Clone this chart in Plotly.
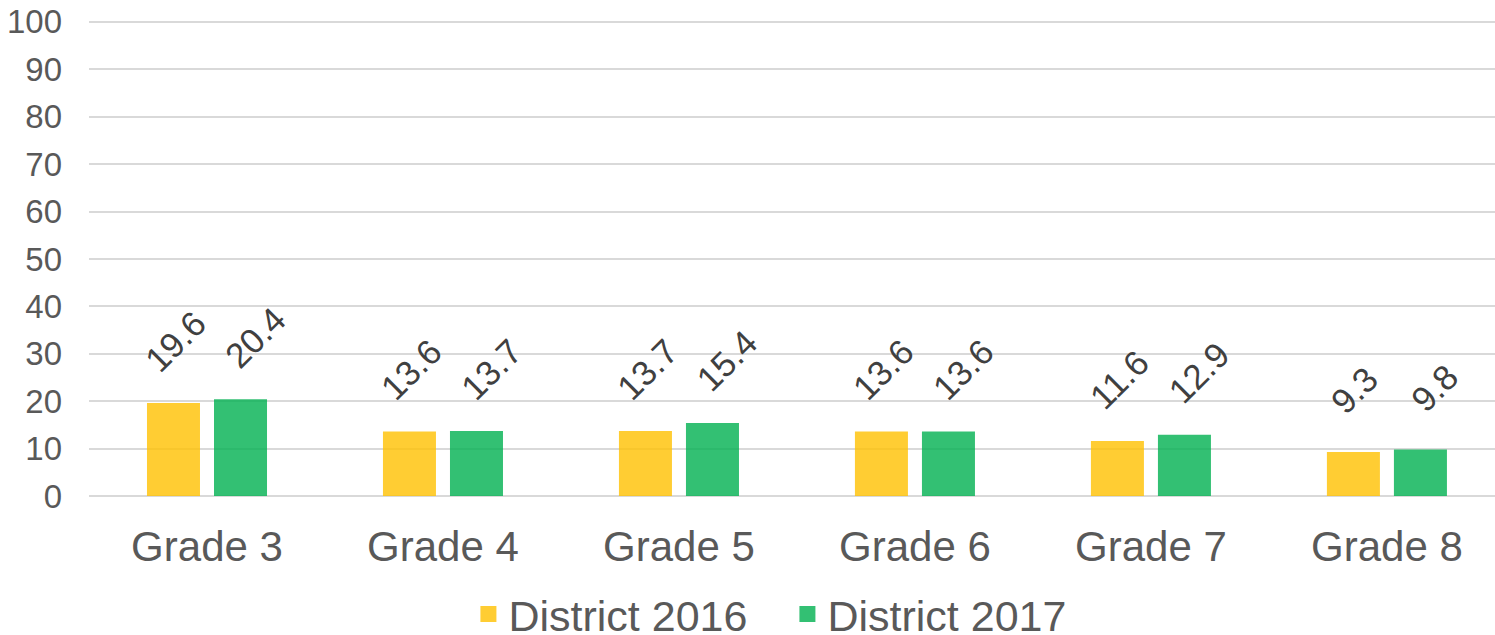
import plotly.graph_objects as go

grades = ["Grade 3", "Grade 4", "Grade 5", "Grade 6", "Grade 7", "Grade 8"]
district_2016 = [19.6, 13.6, 13.7, 13.6, 11.6, 9.3]
district_2017 = [20.4, 13.7, 15.4, 13.6, 12.9, 9.8]
y_ticks = [0, 10, 20, 30, 40, 50, 60, 70, 80, 90, 100]

FONT = "Liberation Sans, Arial, sans-serif"
C16 = "rgba(255,192,0,0.8)"
C17 = "rgba(0,176,80,0.8)"

fig = go.Figure()
fig.add_trace(go.Bar(x=grades, y=district_2016, name="District 2016",
                     marker=dict(color=C16, line=dict(width=0)), showlegend=False))
fig.add_trace(go.Bar(x=grades, y=district_2017, name="District 2017",
                     marker=dict(color=C17, line=dict(width=0)), showlegend=False))
# legend entries with larger squares
fig.add_trace(go.Scatter(x=[None], y=[None], mode="markers", name="District 2016",
                         marker=dict(symbol="square", size=20, color=C16)))
fig.add_trace(go.Scatter(x=[None], y=[None], mode="markers", name="District 2017",
                         marker=dict(symbol="square", size=20, color=C17)))

annotations = []
for g, v in zip(grades, district_2016):
    annotations.append(dict(x=g, y=v, xref="x", yref="y", text=f"{v:.1f}",
                            showarrow=False, textangle=-45, xanchor="center",
                            yanchor="middle", xshift=-32, yshift=62,
                            font=dict(family=FONT, size=35, color="#404040")))
for g, v in zip(grades, district_2017):
    annotations.append(dict(x=g, y=v, xref="x", yref="y", text=f"{v:.1f}",
                            showarrow=False, textangle=-45, xanchor="center",
                            yanchor="middle", xshift=48, yshift=62,
                            font=dict(family=FONT, size=35, color="#404040")))

fig.update_layout(
    width=1495, height=635,
    margin=dict(l=89, r=0, t=20, b=139, autoexpand=False),
    paper_bgcolor="white", plot_bgcolor="white",
    barmode="group", bargap=0.432, bargroupgap=0.209,
    font=dict(family=FONT, color="#595959"),
    annotations=annotations,
    showlegend=True,
    legend=dict(orientation="h", xref="container", yref="container",
                x=0.5267, xanchor="center", y=0.033, yanchor="middle",
                font=dict(family=FONT, size=43, color="#595959"),
                itemwidth=30, entrywidth=274, tracegroupgap=0),
    xaxis=dict(range=[-0.5, 5.458], showgrid=False, zeroline=False,
               showline=False, ticks="", tickfont=dict(size=42, color="#595959"),
               ticklabelstandoff=22),
    yaxis=dict(range=[0, 100.4], tickvals=y_ticks, showgrid=True,
               gridcolor="#D9D9D9", gridwidth=1.5, zeroline=True,
               zerolinecolor="#D9D9D9", zerolinewidth=1.5,
               showline=False, ticks="", ticklabelstandoff=26,
               tickfont=dict(size=33, color="#595959")),
)

fig.write_html("out.html", config={"displayModeBar": False},
               post_script="document.body.style.margin='0px';")
